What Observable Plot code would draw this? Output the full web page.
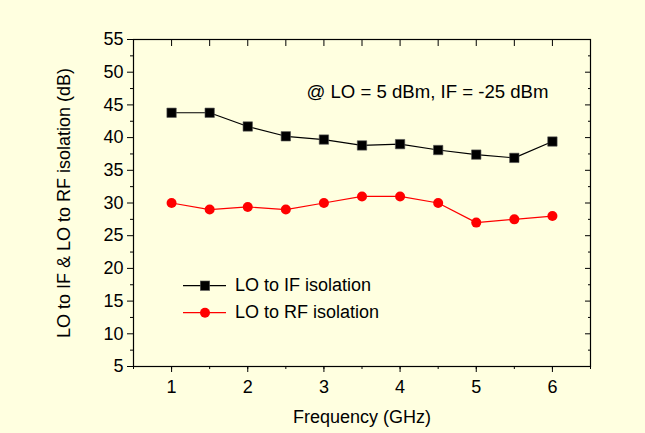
<!DOCTYPE html>
<html>
<head>
<meta charset="utf-8">
<script src="https://cdn.jsdelivr.net/npm/d3@7"></script>
<script src="https://cdn.jsdelivr.net/npm/@observablehq/plot@0.6"></script>
<style>
  html, body { margin: 0; padding: 0; background: #FFFFE0; }
  #wrap { position: relative; width: 645px; height: 433px; font-family: "Liberation Sans", Arial, sans-serif; }
  #legend { position: absolute; left: 182px; top: 271.5px; font-size: 18px; color: #000; }
  #legend .row { display: flex; align-items: center; height: 27px; }
  #legend svg { margin-right: 9px; }
</style>
</head>
<body>
<div id="wrap"></div>
<script>
const freq = [1, 1.5, 2, 2.5, 3, 3.5, 4, 4.5, 5, 5.5, 6];
const loToIF = [43.8, 43.8, 41.7, 40.2, 39.7, 38.8, 39.0, 38.1, 37.4, 36.9, 39.4];
const loToRF = [30.0, 29.0, 29.4, 29.0, 30.0, 31.0, 31.0, 30.0, 27.0, 27.5, 28.0];
const seriesNames = ["LO to IF isolation", "LO to RF isolation"];
const seriesColors = ["#000000", "#FF0000"];
const xMajorTicks = [1, 2, 3, 4, 5, 6];
const xMinorTicks = [0.5, 1, 1.5, 2, 2.5, 3, 3.5, 4, 4.5, 5, 5.5, 6, 6.5];
const yMajorTicks = [5, 10, 15, 20, 25, 30, 35, 40, 45, 50, 55];
const yMinorTicks = [7.5, 12.5, 17.5, 22.5, 27.5, 32.5, 37.5, 42.5, 47.5, 52.5];
const annotation = "@ LO = 5 dBm, IF = -25 dBm";
const xLabel = "Frequency (GHz)";
const yLabel = "LO to IF & LO to RF isolation (dB)";

const dataIF = freq.map((f, i) => ({f, v: loToIF[i]}));
const dataRF = freq.map((f, i) => ({f, v: loToRF[i]}));
const font = "'Liberation Sans', Arial, sans-serif";
const blank = () => "";

const chart = Plot.plot({
  width: 645,
  height: 433,
  marginLeft: 133,
  marginRight: 55,
  marginTop: 39,
  marginBottom: 67,
  style: {background: "transparent", fontFamily: font, fontSize: "18px", color: "#000", overflow: "visible"},
  x: {domain: [0.5, 6.5]},
  y: {domain: [5, 55]},
  marks: [
    Plot.frame({stroke: "#000", strokeWidth: 1.2}),
    Plot.axisX(xMinorTicks, {anchor: "bottom", tickSize: 3, tickFormat: blank, label: null}),
    Plot.axisX(xMajorTicks, {anchor: "bottom", tickSize: 6, tickPadding: 8, fontSize: 18, fontFamily: font,
      label: xLabel, labelAnchor: "center", labelArrow: "none", labelOffset: 56}),
    Plot.axisX(xMinorTicks, {anchor: "top", tickSize: -6, tickFormat: blank, label: null}),
    Plot.axisY(yMinorTicks, {anchor: "left", tickSize: 3, tickFormat: blank, label: null}),
    Plot.axisY(yMajorTicks, {anchor: "left", tickSize: 6, tickPadding: 4, fontSize: 18, fontFamily: font,
      label: yLabel, labelAnchor: "center", labelArrow: "none", labelOffset: 76}),
    Plot.axisY(yMinorTicks, {anchor: "right", tickSize: -3, tickFormat: blank, label: null}),
    Plot.axisY(yMajorTicks, {anchor: "right", tickSize: -6, tickFormat: blank, label: null}),
    Plot.line(dataIF, {x: "f", y: "v", stroke: seriesColors[0], strokeWidth: 1.2}),
    Plot.dot(dataIF, {x: "f", y: "v", symbol: "square", r: 5.3, fill: seriesColors[0], stroke: "#555", strokeWidth: 0.6}),
    Plot.line(dataRF, {x: "f", y: "v", stroke: seriesColors[1], strokeWidth: 1.2}),
    Plot.dot(dataRF, {x: "f", y: "v", symbol: "circle", r: 5, fill: seriesColors[1]}),
    Plot.text([annotation], {frameAnchor: "top-right", dx: -42, dy: 53, text: d => d,
      textAnchor: "end", lineAnchor: "middle", fontSize: 18.6, fontFamily: font, fill: "#000"})
  ]
});

const wrap = document.getElementById("wrap");
wrap.appendChild(chart);

const legend = document.createElement("div");
legend.id = "legend";
seriesNames.forEach((name, i) => {
  const row = document.createElement("div");
  row.className = "row";
  const marker = i === 0
    ? `<rect x="18.3" y="5" width="9.4" height="9.4" fill="${seriesColors[i]}" stroke="#555" stroke-width="0.6"/>`
    : `<circle cx="23" cy="9.7" r="5" fill="${seriesColors[i]}"/>`;
  row.innerHTML = `<svg width="44" height="19"><line x1="1" x2="44" y1="9.7" y2="9.7" stroke="${seriesColors[i]}" stroke-width="1.2"/>${marker}</svg><span>${name}</span>`;
  legend.appendChild(row);
});
wrap.appendChild(legend);
</script>
</body>
</html>
